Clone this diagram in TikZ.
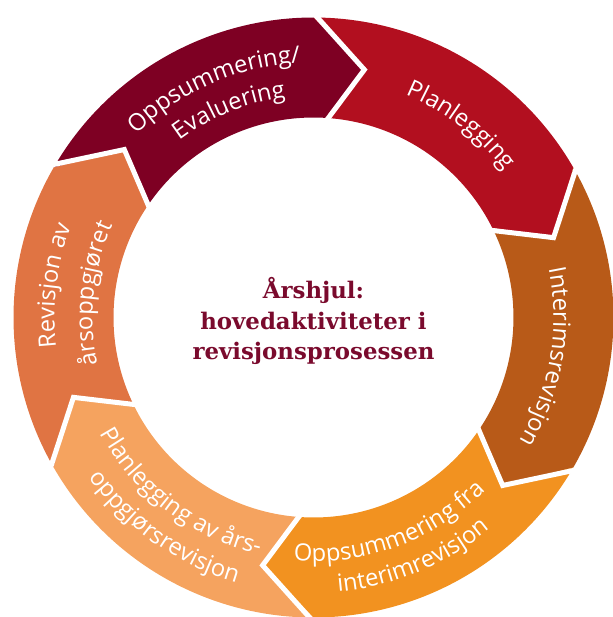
\documentclass[tikz,border=0pt]{standalone}
\usepackage{fontspec}
\setmainfont{Open Sans}
\newfontfamily\titlefont{DejaVu Serif}
\usetikzlibrary{decorations.text}

\definecolor{evalred}{HTML}{7E0023}
\definecolor{planred}{HTML}{B20F1F}
\definecolor{interimbrown}{HTML}{B85A18}
\definecolor{summorange}{HTML}{F29220}
\definecolor{planorange}{HTML}{F5A35F}
\definecolor{revorange}{HTML}{E07443}
\definecolor{titlered}{HTML}{7A0A2D}

\newcommand\ringfont{\fontsize{13.5}{16}\selectfont}
% text on an arc: start angle, end angle, radius, text
\newcommand\ringline[4]{%
  \path[decorate, decoration={text along path, text align=center, text color=white,
    text={|\ringfont|#4}}] (#1:#3) arc[start angle=#1, end angle=#2, radius=#3];}

\tikzset{
  gapline/.style={white, line width=0.1cm, line join=miter},
  centertitle/.style={align=center, text=titlered, font=\titlefont\bfseries\fontsize{13}{17.6}\selectfont}
}

\begin{document}
\begin{tikzpicture}
    \useasboundingbox (-6.27,-5.99) rectangle (5.99,6.35);
    \clip (-6.27,-5.99) rectangle (5.99,6.35);

    % Draw ring segments
    \foreach \a/\col in {150/evalred, 90/planred, 30/interimbrown, -30/summorange, -90/planorange, -150/revorange} {
        \fill[\col] (\a:6) arc[start angle=\a, end angle=\a-60, radius=6]
            -- (\a-71.6:5.06) -- (\a-63.4:4) arc[start angle=\a-63.4, end angle=\a-3.4, radius=4]
            -- (\a-11.6:5.06) -- cycle;
    }

    % Draw gaps between segments
    \foreach \a in {150,90,...,-150} {
        \draw[gapline] (\a-3.3:3.9) -- (\a-11.6:5.06) -- (\a+0.1:6.1);
    }

    % Labels on the ring
    \ringline{158.5}{68.5}{5.10}{Oppsummering/}
    \ringline{157.1}{67.1}{4.44}{Evaluering}
    \ringline{97.5}{7.5}{4.82}{Planlegging}
    \ringline{35.3}{-54.7}{4.80}{Interimsrevisjon}
    \ringline{-114.9}{-24.9}{4.88}{Oppsummering fra}
    \ringline{-112.5}{-22.5}{5.51}{interimrevisjon}
    \ringline{-172.2}{-82.2}{4.86}{Planlegging av års-}
    \ringline{-170.4}{-80.4}{5.52}{oppgjørsrevisjon}
    \ringline{218}{128}{5.18}{Revisjon av}
    \ringline{218.7}{128.7}{4.42}{årsoppgjøret}

    % Title
    \node[centertitle] (title) at (0,-0.07) {Årshjul:\\hovedaktiviteter i\\revisjonsprosessen};
\end{tikzpicture}
\end{document}
